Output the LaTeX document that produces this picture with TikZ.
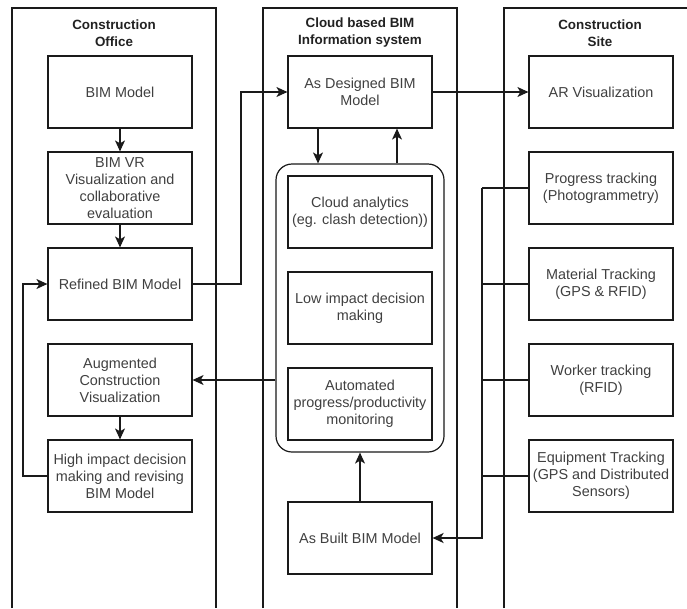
\documentclass[tikz,border=0pt]{standalone}
\usepackage{fontspec}
\setmainfont{Liberation Sans}
\usetikzlibrary{arrows.meta,calc}
\definecolor{txt}{HTML}{404040}
\definecolor{ttl}{HTML}{222222}
\definecolor{ln}{HTML}{1A1A1A}
\begin{document}
\begin{tikzpicture}[x=1pt,y=-1pt,
  box/.style={draw=ln,line width=1.2pt,minimum width=144pt,minimum height=72pt,inner sep=0pt,align=center,text=txt,font=\fontsize{14.4}{17}\selectfont},
  ttlstyle/.style={align=center,text=ttl,font=\fontsize{13.4}{17}\selectfont\bfseries,inner sep=0pt},
  lane/.style={draw=ln,line width=1.1pt},
  con/.style={draw=ln,line width=1.1pt},
  arr/.style={draw=ln,line width=1.1pt,-{Stealth[length=11pt,width=10pt,inset=3pt]}},
  bus/.style={draw=ln,line width=1.8pt,-{Stealth[length=11pt,width=10pt,inset=3pt]}}]
\useasboundingbox (0,0) rectangle (687,608);
\fill[white] (0,0) rectangle (687,608);
% lanes
\draw[lane] (12,608) -- (12,8) -- (216,8) -- (216,608);
\draw[lane] (263,608) -- (263,8) -- (457,8) -- (457,608);
\draw[lane] (504,608) -- (504,8) -- (687,8);
\node[ttlstyle] (t1) at (114,33) {Construction\\Office};
\node[ttlstyle] (t2) at (360,33) {Cloud based BIM\\Information system};
\node[ttlstyle] (t3) at (600,33) {Construction\\Site};
% left column
\node[box] (bim) at (120,92) {BIM Model};
\node[box] (vr) at (120,188) {BIM VR\\Visualization and\\collaborative\\evaluation};
\node[box] (ref) at (120,284) {Refined BIM Model};
\node[box] (aug) at (120,380) {Augmented\\Construction\\Visualization};
\node[box] (hi) at (120,476) {High impact decision\\making and revising\\BIM Model};
% middle column
\node[box] (asd) at (360,92) {As Designed BIM\\Model};
\node[draw=ln,line width=1.2pt,rounded corners=16pt,minimum width=168pt,minimum height=288pt,inner sep=0pt] (cont) at (360,308) {};
\node[box] (ca) at (360,212) {Cloud analytics\\(eg. clash detection))};
\node[box] (low) at (360,308) {Low impact decision\\making};
\node[box] (auto) at (360,404) {Automated\\progress/productivity\\monitoring};
\node[box] (ab) at (360,538) {As Built BIM Model};
% right column
\node[box] (ar) at (601,92) {AR Visualization};
\node[box] (pt) at (601,188) {Progress tracking\\(Photogrammetry)};
\node[box] (mt) at (601,284) {Material Tracking\\(GPS \& RFID)};
\node[box] (wt) at (601,380) {Worker tracking\\(RFID)};
\node[box] (et) at (601,476) {Equipment Tracking\\(GPS and Distributed\\Sensors)};
% coordinates
\coordinate (busx) at (482,0);
\coordinate (lx) at (23,0);
\coordinate (mx) at (241,0);
\coordinate (dn) at (318,0);
\coordinate (up) at (397,0);
% connectors
\draw[arr] (bim) -- (vr);
\draw[arr] (vr) -- (ref);
\draw[arr] (aug) -- (hi);
\draw[arr] (hi.west) -- (lx |- hi.west) -- (lx |- ref.west) -- (ref.west);
\draw[arr] (ref.east) -- (mx |- ref.east) -- (mx |- asd.west) -- (asd.west);
\draw[arr] (asd.east) -- (ar.west);
\draw[arr] (dn |- asd.south) -- (dn |- cont.north);
\draw[arr] (up |- cont.north) -- (up |- asd.south);
\draw[arr] (cont.west |- aug.east) -- (aug.east);
\draw[arr] (ab.north) -- (cont.south);
\foreach \n in {pt,mt,wt,et}{
  \draw[con] (\n.west) -- (busx |- \n.west);
}
\draw[bus] (busx |- pt.west) -- (busx |- ab.east) -- (ab.east);
\end{tikzpicture}
\end{document}
